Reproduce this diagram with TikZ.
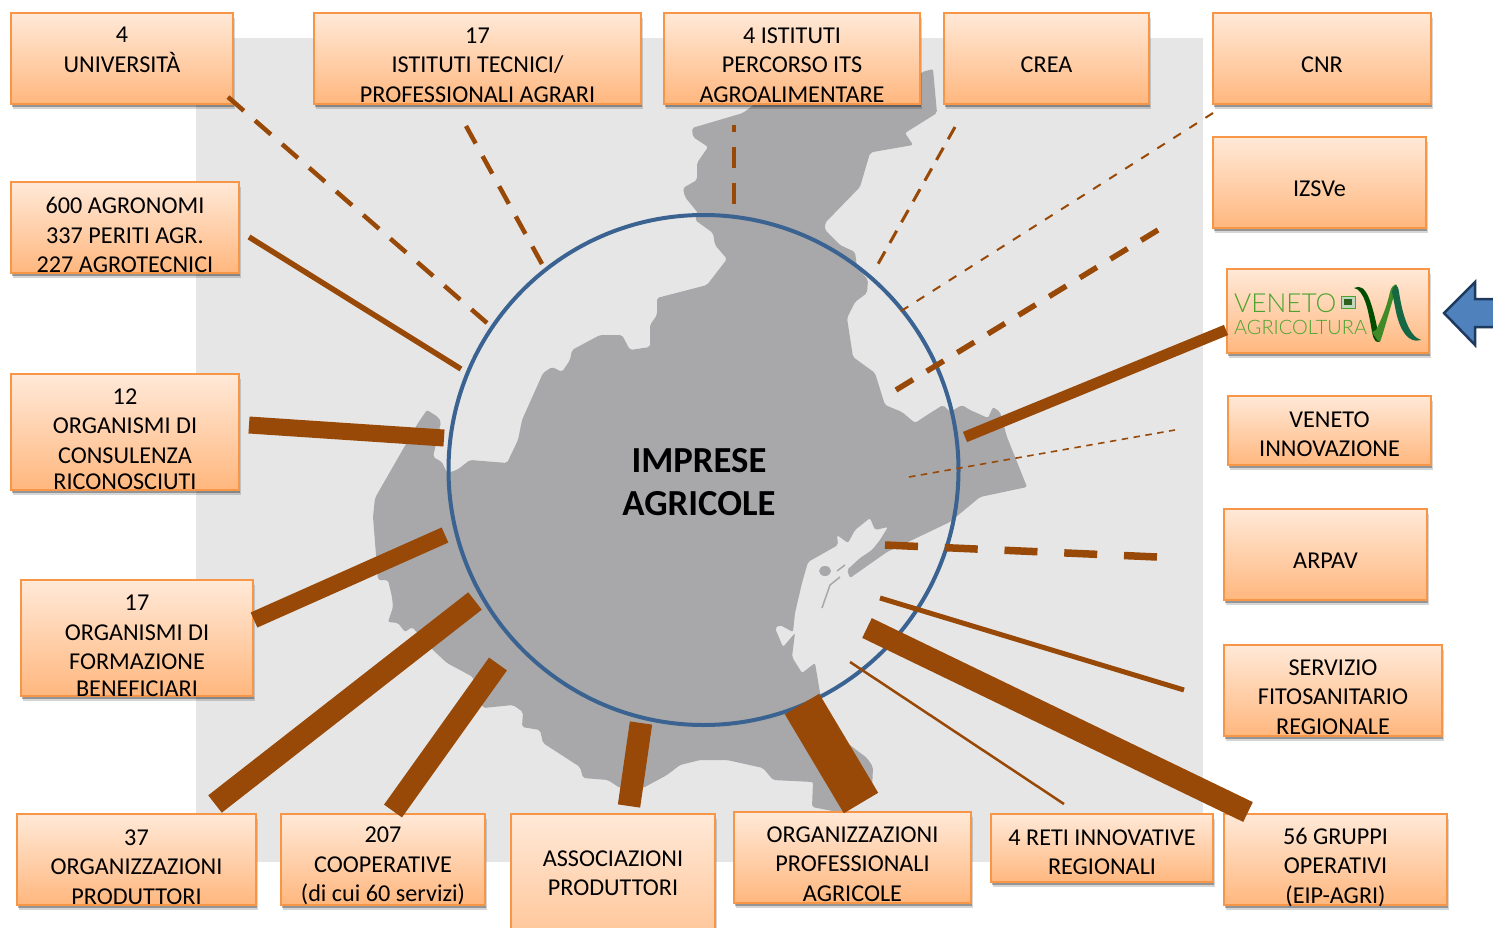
\documentclass[tikz,border=0pt]{standalone}
\usepackage{fontspec}
\setmainfont{Carlito}
\newfontfamily\logofont{Lato Light}
\usetikzlibrary{shadows}
\definecolor{bgmap}{HTML}{E6E6E6}
\definecolor{land}{HTML}{A8A8AA}
\definecolor{bar}{HTML}{984807}
\definecolor{ring}{HTML}{3B6391}
\definecolor{edge}{HTML}{F79646}
\definecolor{boxtop}{HTML}{FFE9D8}
\definecolor{boxbot}{HTML}{FFB77E}
\definecolor{logogreen}{HTML}{4BA32F}
\definecolor{arrowfill}{HTML}{4F81BD}
\definecolor{arrowedge}{HTML}{1F3A5F}
\tikzset{
  boxst/.style={rectangle,draw=edge,line width=1.8pt,top color=boxtop,bottom color=boxbot,inner sep=0pt,outer sep=0pt,
    drop shadow={shadow xshift=1.5pt,shadow yshift=-5pt,opacity=.16,fill=black},
    drop shadow={shadow xshift=.5pt,shadow yshift=-3pt,opacity=.3,fill=black}},
  txt/.style={align=center,inner sep=0pt,font=\fontsize{24.2}{29.5}\selectfont,text=black},
  bar/.style={draw=bar,line cap=butt},
  dashA/.style={bar,line width=4.5pt,dash pattern=on 21pt off 14.9pt},
  dashA2/.style={bar,line width=4.5pt,dash pattern=on 20pt off 14.4pt},
  dashB/.style={bar,line width=3pt,dash pattern=on 14pt off 9.8pt},
  dashC/.style={bar,line width=2pt,dash pattern=on 9pt off 10pt},
  dashD/.style={bar,line width=5.5pt,dash pattern=on 20pt off 15.9pt},
  dashE/.style={bar,line width=1.6pt,dash pattern=on 6.5pt off 5.5pt},
  dashF/.style={bar,line width=7.5pt,dash pattern=on 33pt off 26.8pt},
}
\newcommand\tbox[7]{%
  \node[boxst,minimum width={#4pt-#2pt},minimum height={#5pt-#3pt}] (#1) at ({(#2+#4)/2},{(#3+#5)/2}) {};
  \node[txt] (#1t) at ({(#2+#4)/2},{#6+1}) {#7};
}
\begin{document}
\begin{tikzpicture}[x=1pt,y=-1pt]
\clip (0,0) rectangle (1493,928);
\fill[white] (0,0) rectangle (1493,928);
\fill[bgmap] (196,38) rectangle (1203,862);
% map
\fill[land,rounded corners=2pt]
 (922,72)--(933,69)--(937,113)--(905,133)--(913,145)--(873,152)--(870,153)--(860,187)--(825,223)--(825,230)--(840,245)--(855,252)--(857,267)--(868,280)--(867,293)--(855,302)--(847,318)--(853,357)--(875,373)--(885,405)--(902,412)--(915,423)--(927,415)--(943,405)--(950,412)--(962,405)--(970,410)--(988,418)--(993,407)--(1000,412)--(1007,437)--(1027,487)--(1013,490)--(980,497)--(950,522)--(887,552)--(850,578)--(847,570)--(860,558)--(872,550)--(880,540)--(888,527)--(875,530)--(870,518)--(855,530)--(848,543)--(837,535)--(838,545)--(808,562)--(802,583)--(795,613)--(793,632)--(780,625)--(775,628)--(783,647)--(795,633)--(792,657)--(802,673)--(815,663)--(820,693)--(830,730)--(867,758)--(873,767)--(872,790)--(843,813)--(812,807)--(813,782)--(773,780)--(763,768)--(727,760)--(700,760)--(680,765)--(667,775)--(643,788)--(620,788)--(608,780)--(583,778)--(580,767)--(543,743)--(540,730)--(522,727)--(523,712)--(513,705)--(483,708)--(473,677)--(447,663)--(433,650)--(412,627)--(405,632)--(398,623)--(388,622)--(393,607)--(392,597)--(388,580)--(378,580)--(373,517)--(375,498)--(418,423)--(427,410)--(438,417)--(441,422)--(433,457)--(442,462)--(447,473)--(457,470)--(470,460)--(507,463)--(518,440)--(522,420)--(543,373)--(552,367)--(562,372)--(570,360)--(572,350)--(600,335)--(622,335)--(630,350)--(650,347)--(650,325)--(657,315)--(657,298)--(707,285)--(727,259)--(715,245)--(713,233)--(695,220)--(698,213)--(685,197)--(683,188)--(697,180)--(697,163)--(708,147)--(693,137)--(692,128)--(743,113)--(760,100)--(905,90)--cycle;
\fill[land] (825,571) ellipse (6 and 5);
\draw[land,line width=1.5pt] (840,577)--(830,585)--(822,608);
\draw[land,line width=1.5pt] (845,565)--(837,571);
% ring
\node[draw=ring,line width=4pt,circle,minimum size=510pt,inner sep=0pt,outer sep=0pt] (ring) at (703.5,470) {};
\node[align=center,inner sep=0pt,font=\fontsize{36.7}{43}\selectfont\bfseries,text=black] (title) at (699,482) {IMPRESE\\AGRICOLE};
% free ends of connectors
\coordinate (a1) at (228,97);   \coordinate (a2) at (487,323);
\coordinate (b1) at (466,126);  \coordinate (b2) at (542,264);
\coordinate (c1) at (734,204);  \coordinate (c2) at (734,125);
\coordinate (d1) at (955,127);  \coordinate (d2) at (878,264);
\coordinate (e1) at (1213,113); \coordinate (e2) at (898,313);
\coordinate (f1) at (896,390);  \coordinate (f2) at (1158,230);
\coordinate (g1) at (1226,330); \coordinate (g2) at (965,437);
\coordinate (h1) at (909,477);  \coordinate (h2) at (1175,430);
\coordinate (i1) at (885,545);  \coordinate (i2) at (1157,557);
\coordinate (j1) at (1184,690); \coordinate (j2) at (880,598);
\coordinate (k1) at (1248,812); \coordinate (k2) at (867,628);
\coordinate (l1) at (1064,804); \coordinate (l2) at (850,662);
\coordinate (m1) at (861,803);  \coordinate (m2) at (802,704);
\coordinate (n1) at (629,806);  \coordinate (n2) at (641,723);
\coordinate (o1) at (393,811);  \coordinate (o2) at (498,664);
\coordinate (p1) at (215,804);  \coordinate (p2) at (475,601);
\coordinate (q1) at (254,620);  \coordinate (q2) at (445,535);
\coordinate (r1) at (249,425);  \coordinate (r2) at (444,438);
\coordinate (s1) at (249,237);  \coordinate (s2) at (461,369);
% boxes
\tbox{uni}{11}{13}{233}{104}{49}{4\\UNIVERSITÀ}
\tbox{tec}{314}{13}{641}{104}{64}{17\\ISTITUTI TECNICI/\\PROFESSIONALI AGRARI}
\tbox{its}{664}{13}{920}{104}{64}{4 ISTITUTI\\PERCORSO ITS\\AGROALIMENTARE}
\tbox{crea}{944}{13}{1149}{104}{64}{CREA}
\tbox{cnr}{1213}{13}{1431}{104}{64}{CNR}
\tbox{izs}{1213}{137}{1426}{228}{188}{IZSVe}
\node[boxst,minimum width=202pt,minimum height=84pt] (logo) at (1328,311) {};
\tbox{inn}{1228}{396}{1431}{465}{433}{VENETO\\INNOVAZIONE}
\tbox{arp}{1224}{509}{1427}{600}{560}{ARPAV}
\tbox{fit}{1224}{645}{1442}{736}{696}{SERVIZIO\\FITOSANITARIO\\REGIONALE}
\tbox{gop}{1224}{814}{1447}{905}{866}{56 GRUPPI\\OPERATIVI\\(EIP-AGRI)}
\tbox{ret}{991}{814}{1213}{882}{851}{4 RETI INNOVATIVE\\REGIONALI}
\tbox{opa}{734}{812}{971}{903}{863}{ORGANIZZAZIONI\\PROFESSIONALI\\AGRICOLE}
\tbox{aso}{511}{814}{715}{990}{872}{ASSOCIAZIONI\\PRODUTTORI}
\tbox{coo}{281}{814}{485}{905}{865}{207\\COOPERATIVE\\(di cui 60 servizi)}
\tbox{opr}{17}{814}{256}{905}{866}{37\\ORGANIZZAZIONI\\PRODUTTORI}
\tbox{frm}{21}{580}{253}{696}{645}{17\\ORGANISMI DI\\FORMAZIONE\\[-2.5pt]BENEFICIARI}
\tbox{cns}{11}{374}{239}{490}{438}{12\\ORGANISMI DI\\CONSULENZA\\[-3pt]RICONOSCIUTI}
\tbox{agr}{11}{182}{239}{273}{234}{600 AGRONOMI\\337 PERITI AGR.\\227 AGROTECNICI}
% connectors
\draw[dashA] (a1)--(a2);
\draw[dashA2] (b1)--(b2);
\draw[dashA] (c1)--(c2);
\draw[dashB] (d1)--(d2);
\draw[dashC] (e1)--(e2);
\draw[dashD] (f1)--(f2);
\draw[bar,line width=11pt] (g1)--(g2);
\draw[dashE] (h1)--(h2);
\draw[dashF] (i1)--(i2);
\draw[bar,line width=5pt] (j1)--(j2);
\draw[bar,line width=22pt] (k1)--(k2);
\draw[bar,line width=2.5pt] (l1)--(l2);
\draw[bar,line width=40pt] (m1)--(m2);
\draw[bar,line width=22.5pt] (n1)--(n2);
\draw[bar,line width=22pt] (o1)--(o2);
\draw[bar,line width=22pt] (p1)--(p2);
\draw[bar,line width=16.5pt] (q1)--(q2);
\draw[bar,line width=17pt] (r1)--(r2);
\draw[bar,line width=5.5pt] (s1)--(s2);
% logo
\node[anchor=west,inner sep=0pt,text=logogreen,font=\logofont\fontsize{26.2}{26.2}\selectfont] (lv) at (1234,303) {VENETO};
\node[anchor=west,inner sep=0pt,text=logogreen,font=\logofont\fontsize{19.9}{19.9}\selectfont] (la) at (1234,327) {AGRICOLTURA};
\filldraw[fill=green!35!black!25,draw=logogreen,line width=.7pt] (1341,296) rectangle (1355,308);
\fill[logogreen!60!black] (1344,299) rectangle (1352,305);
\fill[green!30!black] (1354,288) .. controls (1366,282) and (1372,300) .. (1380,342) .. controls (1376,342) and (1374,342) .. (1372,332) .. controls (1368,308) and (1364,290) .. (1354,288) -- cycle;
\fill[logogreen!85!black] (1372,332) .. controls (1376,338) and (1378,342) .. (1380,342) .. controls (1386,325) and (1392,300) .. (1397,287) .. controls (1398,282) and (1392,284) .. (1390,292) .. controls (1386,310) and (1380,322) .. (1376,330) -- cycle;
\fill[black!40!teal!70!logogreen] (1392,292) .. controls (1394,282) and (1398,284) .. (1399,292) .. controls (1402,312) and (1408,336) .. (1421,340) .. controls (1408,344) and (1400,330) .. (1396,312) -- cycle;
% arrow
\filldraw[fill=arrowfill,draw=arrowedge,line width=2.5pt,line join=miter] (1444,313)--(1475,282)--(1475,299)--(1500,299)--(1500,327)--(1475,327)--(1475,345)--cycle;
\end{tikzpicture}
\end{document}
